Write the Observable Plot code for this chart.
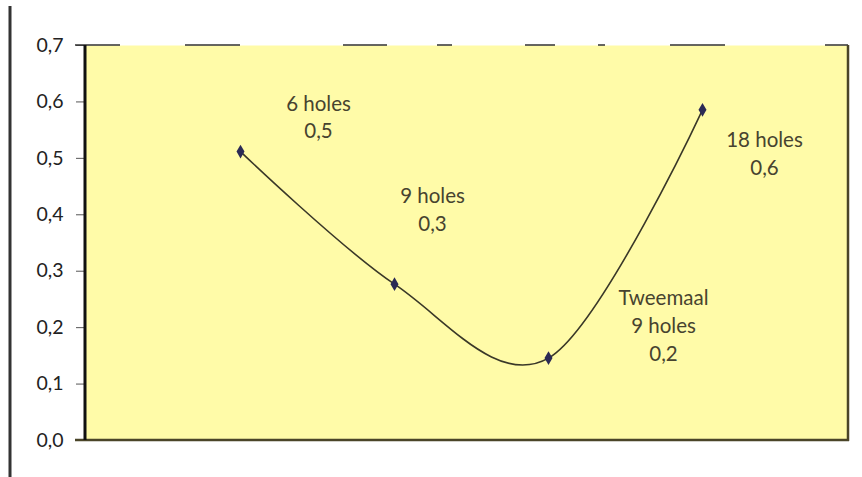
<!DOCTYPE html>
<html>
<head>
<meta charset="utf-8">
<script src="https://cdn.jsdelivr.net/npm/d3@7"></script>
<script src="https://cdn.jsdelivr.net/npm/@observablehq/plot@0.6"></script>
<style>
  html, body { margin: 0; padding: 0; background: #fff; }
  #chart svg { display: block; }
  #chart svg g[aria-label="y-axis tick label"] { font-size: 19.5px; }
</style>
</head>
<body>
<div id="chart"></div>
<script>
const categories = ["6 holes", "9 holes", "Tweemaal 9 holes", "18 holes"];
const values = [0.512, 0.277, 0.146, 0.586];
const labels = ["6 holes\n0,5", "9 holes\n0,3", "Tweemaal\n9 holes\n0,2", "18 holes\n0,6"];
const yTicks = [0, 0.1, 0.2, 0.3, 0.4, 0.5, 0.6, 0.7];

const data = categories.map((c, i) => ({category: c, value: values[i], label: labels[i]}));

const labelOffsets = [[78, -36], [38, -76], [115, -34], [62, 42]];

const font = "Lato, 'Open Sans', sans-serif";

const borders = (index, scales, values, dims) => {
  const g = d3.create("svg:g");
  const L = dims.marginLeft, R = dims.width - dims.marginRight;
  const T = dims.marginTop, B = dims.height - dims.marginBottom;
  // outer gutter line
  g.append("line").attr("x1", 10).attr("x2", 10).attr("y1", 6).attr("y2", dims.height)
    .attr("stroke", "#333").attr("stroke-width", 3);
  // top broken line
  g.append("line").attr("x1", L - 10).attr("x2", R).attr("y1", T).attr("y2", T)
    .attr("stroke", "#333").attr("stroke-width", 1.5)
    .attr("stroke-dasharray", "45 65 55 103 44 50 15 73 30 43 7 65 55 100 23");
  // right line
  g.append("line").attr("x1", R).attr("x2", R).attr("y1", T).attr("y2", B + 1)
    .attr("stroke", "#4a4528").attr("stroke-width", 2.5);
  // bottom line
  g.append("line").attr("x1", L - 10).attr("x2", R + 1).attr("y1", B).attr("y2", B)
    .attr("stroke", "#4a4528").attr("stroke-width", 2.5);
  // left axis line
  g.append("line").attr("x1", L).attr("x2", L).attr("y1", T).attr("y2", B)
    .attr("stroke", "#111").attr("stroke-width", 3);
  return g.node();
};

const plot = Plot.plot({
  width: 862,
  height: 477,
  marginLeft: 85,
  marginRight: 14,
  marginTop: 45,
  marginBottom: 37,
  style: {fontFamily: font, background: "#fff", fontSize: "19.5px"},
  x: {type: "point", domain: categories, padding: 1, insetLeft: 1, insetRight: -8, axis: null},
  y: {domain: [0, 0.7]},
  marks: [
    Plot.frame({fill: "#fffba8", stroke: null}),
    Plot.axisY({
      ticks: yTicks,
      tickFormat: d => d.toFixed(1).replace(".", ","),
      tickSize: 9,
      tickPadding: 13,
      fontSize: 19.5,
      fill: "#222",
      stroke: "#555",
      label: null
    }),
    borders,
    Plot.line(data, {x: "category", y: "value", curve: "cardinal", stroke: "#3a3828", strokeWidth: 1.6}),
    Plot.dot(data, {x: "category", y: "value", symbol: "diamond", r: 4.2, fill: "#2b2a55", stroke: null}),
    ...labelOffsets.map(([dx, dy], i) =>
      Plot.text(data, {
        filter: (d, j) => j === i,
        x: "category", y: "value", text: "label",
        dx, dy,
        fontSize: 20.5, lineHeight: 1.36,
        fill: "#47432f", textAnchor: "middle"
      })
    )
  ]
});

document.getElementById("chart").append(plot);
</script>
</body>
</html>
